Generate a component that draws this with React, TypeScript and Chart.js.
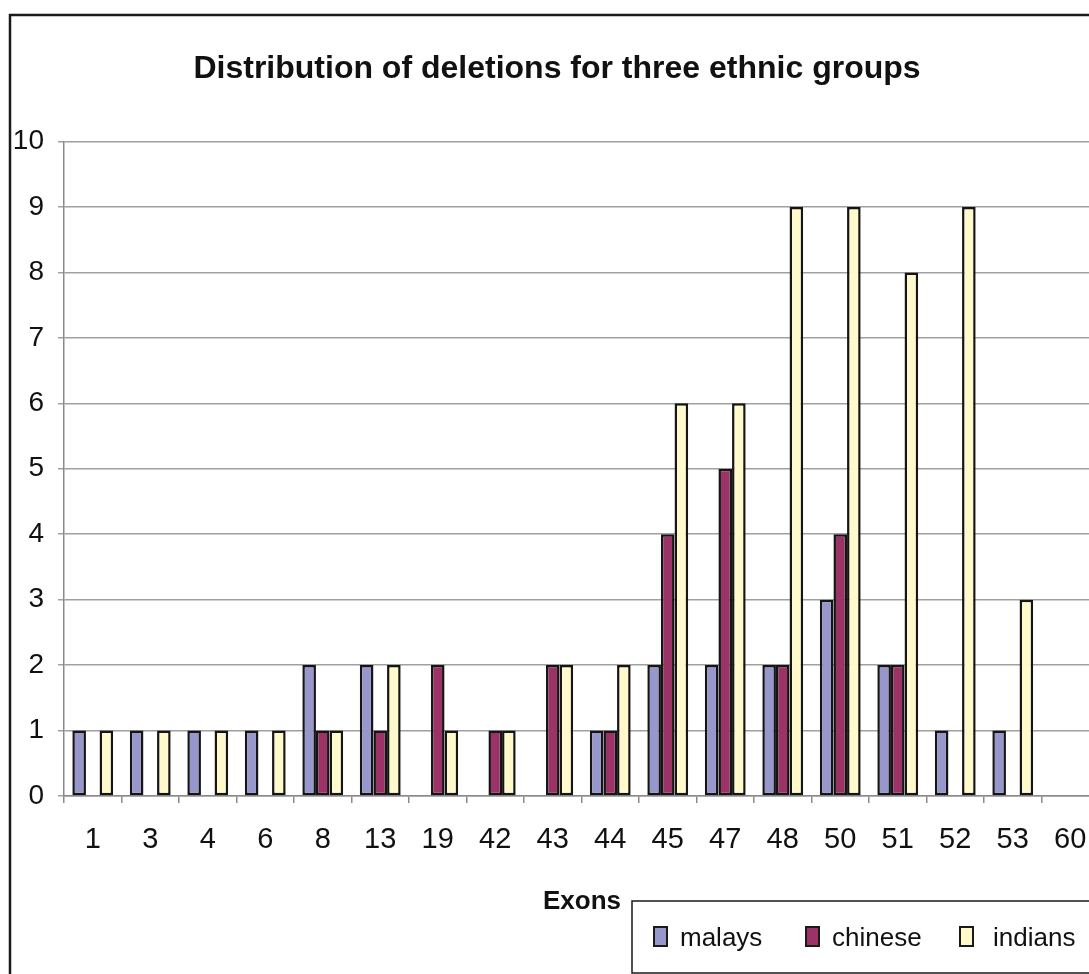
import React, { useEffect, useRef } from "react";
import { Chart, registerables } from "chart.js";

Chart.register(...registerables);

const exons = ["1", "3", "4", "6", "8", "13", "19", "42", "43", "44", "45", "47", "48", "50", "51", "52", "53", "60"];
const malays = [1, 1, 1, 1, 2, 2, 0, 0, 0, 1, 2, 2, 2, 3, 2, 1, 1, 0];
const chinese = [0, 0, 0, 0, 1, 1, 2, 1, 2, 1, 4, 5, 2, 4, 2, 0, 0, 0];
const indians = [1, 1, 1, 1, 1, 2, 1, 1, 2, 2, 6, 6, 9, 9, 8, 9, 3, 0];
const seriesNames = ["malays", "chinese", "indians"];
const seriesColors = ["#9797CB", "#9B3366", "#FFF9CC"];
const yMin = 0;
const yMax = 10;
const titleText = "Distribution of deletions for three ethnic groups";
const xTitleText = "Exons";

const FONT = "'Liberation Sans', Arial, sans-serif";
const W = 1120;
const H = 974;

const decorPlugin = {
  id: "decor",
  beforeDraw(chart: any) {
    const ctx = chart.ctx;
    ctx.save();
    ctx.fillStyle = "#ffffff";
    ctx.fillRect(0, 0, chart.width, chart.height);
    ctx.restore();
  },
  afterDraw(chart: any) {
    const ctx = chart.ctx;
    ctx.save();
    // outer border
    ctx.strokeStyle = "#1a1a1a";
    ctx.lineWidth = 2.5;
    ctx.strokeRect(10, 15, 1300, 1300);

    // title
    ctx.fillStyle = "#111";
    ctx.font = `bold 32px ${FONT}`;
    ctx.textAlign = "center";
    ctx.textBaseline = "alphabetic";
    ctx.fillText(titleText, 557, 78);

    // x axis title
    ctx.font = `bold 26px ${FONT}`;
    ctx.textAlign = "left";
    ctx.fillText(xTitleText, 543, 909);

    // legend box
    ctx.fillStyle = "#ffffff";
    ctx.fillRect(632, 901, 500, 100);
    ctx.strokeStyle = "#1a1a1a";
    ctx.lineWidth = 1.5;
    ctx.strokeRect(632, 901, 500, 72);

    const keyX = [654, 806, 960];
    const textX = [680, 832, 993];
    ctx.font = `26px ${FONT}`;
    for (let i = 0; i < seriesNames.length; i++) {
      ctx.fillStyle = seriesColors[i];
      ctx.fillRect(keyX[i], 927, 13, 19);
      ctx.strokeStyle = "#1a1a1a";
      ctx.lineWidth = 2;
      ctx.strokeRect(keyX[i], 927, 13, 19);
      ctx.fillStyle = "#111";
      ctx.fillText(seriesNames[i], textX[i], 946);
    }
    ctx.restore();
  },
};

export default function App() {
  const ref = useRef<HTMLCanvasElement | null>(null);

  useEffect(() => {
    if (!ref.current) return;
    const series = [malays, chinese, indians];
    const chart = new Chart(ref.current, {
      type: "bar",
      data: {
        labels: exons,
        datasets: series.map((vals, i) => ({
          label: seriesNames[i],
          data: vals.map((v) => (v === 0 ? null : v)),
          backgroundColor: seriesColors[i],
          borderColor: "#151515",
          borderWidth: 2.5,
          borderSkipped: false,
          barPercentage: 1,
          categoryPercentage: 0.71,
        })),
      },
      options: {
        responsive: false,
        animation: false,
        devicePixelRatio: 1,
        layout: { padding: { left: 0, top: 141.5, right: W - 1099, bottom: H - 796 - 60 } },
        plugins: {
          legend: { display: false },
          title: { display: false },
          tooltip: { enabled: false },
        },
        scales: {
          x: {
            grid: {
              offset: true,
              drawOnChartArea: false,
              drawTicks: true,
              tickLength: 7,
              color: "#8a8a8a",
              lineWidth: 1.5,
            },
            border: { display: true, color: "#8a8a8a", width: 1.5 },
            ticks: {
              font: { family: FONT, size: 29 },
              color: "#111",
              padding: 20,
              maxRotation: 0,
              autoSkip: false,
            },
            afterFit: (s: any) => {
              s.height = 60;
            },
          },
          y: {
            min: yMin,
            max: yMax,
            ticks: {
              stepSize: 1,
              font: { family: FONT, size: 28 },
              color: "#111",
              padding: 14,
            },
            grid: { color: "#a0a0a0", lineWidth: 1.5, tickLength: 6 },
            border: { display: true, color: "#8a8a8a", width: 1.5 },
            afterFit: (s: any) => {
              s.width = 64;
            },
          },
        },
      },
      plugins: [decorPlugin],
    });
    return () => chart.destroy();
  }, []);

  return (
    <div
      style={{
        position: "fixed",
        left: 0,
        top: 0,
        width: 1089,
        height: 974,
        overflow: "hidden",
        background: "#fff",
      }}
    >
      <canvas ref={ref} width={W} height={H} style={{ width: W, height: H, display: "block" }} />
    </div>
  );
}
